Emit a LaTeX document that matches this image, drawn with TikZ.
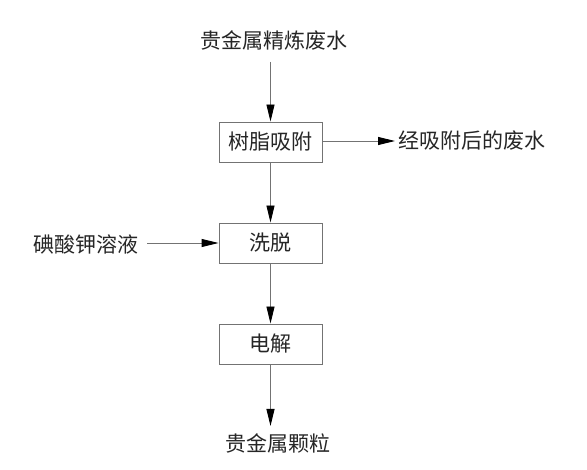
\documentclass[tikz,border=0pt]{standalone}
\usepackage{fontspec}
\newfontfamily\cjk{Noto Sans CJK SC}
\usetikzlibrary{arrows.meta}
\begin{document}
\begin{tikzpicture}[x=1pt,y=-1pt,
  every node/.style={font=\cjk\fontsize{21}{25}\selectfont, text=black!85},
  procbox/.style={draw=black!55, line width=0.9pt, minimum width=103pt, minimum height=40pt, inner sep=0pt},
  flow/.style={draw=black!55, line width=0.9pt, -{Triangle[length=17pt,width=8pt,color=black]}},
  lbl/.style={inner sep=0pt}]
\fill[white] (0,0) rectangle (587,470);
\useasboundingbox (0,0) rectangle (587,470);
\node[lbl] (src) at (274,40) {贵金属精炼废水};
\node[procbox] (b1) at (270.5,142) {树脂吸附};
\node[procbox] (b2) at (270.5,243) {洗脱};
\node[procbox] (b3) at (270.5,344) {电解};
\node[lbl] (prod) at (278,443) {贵金属颗粒};
\node[lbl, anchor=west] (waste) at (398,141) {经吸附后的废水};
\node[lbl, anchor=east] (kio) at (139,244) {碘酸钾溶液};
\coordinate (c0) at (270.5,62);
\coordinate (c1) at (270.5,426);
\coordinate (c2) at (395,141);
\coordinate (c3) at (147,243);
\draw[flow] (c0) -- (b1.north);
\draw[flow] (b1.south) -- (b2.north);
\draw[flow] (b2.south) -- (b3.north);
\draw[flow] (b3.south) -- (c1);
\draw[flow] (b1.east |- c2) -- (c2);
\draw[flow] (c3) -- (b2.west |- c3);
\end{tikzpicture}
\end{document}
